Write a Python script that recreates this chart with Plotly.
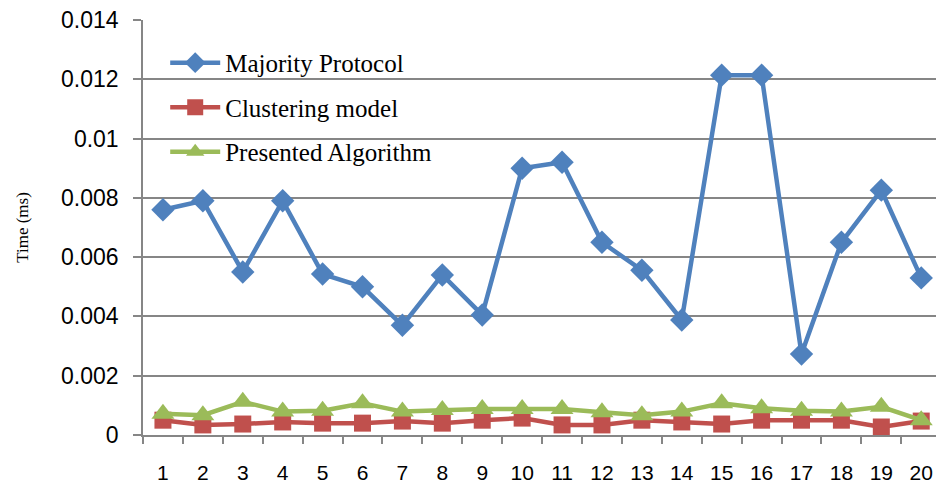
import plotly.graph_objects as go

categories = list(range(1, 21))
majority = [0.0076, 0.0079, 0.0055, 0.0079, 0.00543, 0.0050, 0.0037, 0.0054, 0.00405, 0.0090,
            0.0092, 0.0065, 0.00556, 0.00388, 0.01214, 0.01214, 0.00273, 0.0065, 0.00826, 0.0053]
clustering = [0.0005, 0.00034, 0.00037, 0.00044, 0.0004, 0.0004, 0.00047, 0.0004, 0.0005, 0.00057,
              0.00034, 0.00034, 0.0005, 0.00044, 0.00037, 0.0005, 0.0005, 0.0005, 0.00027, 0.00047]
presented = [0.00072, 0.00067, 0.00112, 0.00079, 0.00082, 0.00107, 0.00079, 0.00084, 0.00088, 0.00088,
             0.00088, 0.00077, 0.00067, 0.00079, 0.00107, 0.0009, 0.00082, 0.00079, 0.00095, 0.0005]
y_ticks = [0, 0.002, 0.004, 0.006, 0.008, 0.01, 0.012, 0.014]
y_tick_text = ["0", "0.002", "0.004", "0.006", "0.008", "0.01", "0.012", "0.014"]

fig = go.Figure()
fig.add_trace(go.Scatter(x=categories, y=majority, name="Majority Protocol", mode="lines+markers",
                         line=dict(color="#4F81BD", width=4.5),
                         marker=dict(symbol="diamond", size=18, color="#4F81BD"),
                         legendgroup="a"))
fig.add_trace(go.Scatter(x=categories, y=clustering, name="Clustering model", mode="lines+markers",
                         line=dict(color="#C0504D", width=4.5),
                         marker=dict(symbol="square", size=17, color="#C0504D"),
                         legendgroup="b"))
fig.add_trace(go.Scatter(x=categories, y=presented, name="Presented Algorithm", mode="lines+markers",
                         line=dict(color="#9BBB59", width=4.5),
                         marker=dict(symbol="triangle-up", size=20, color="#9BBB59"),
                         legendgroup="c"))

fig.update_layout(
    width=936, height=491,
    margin=dict(l=143, r=0, t=20, b=56),
    plot_bgcolor="white", paper_bgcolor="white",
    showlegend=True,
    legend=dict(x=0.028, y=0.952, xanchor="left", yanchor="top",
                font=dict(family="Liberation Serif", size=25, color="black"),
                bgcolor="rgba(0,0,0,0)", tracegroupgap=9, traceorder="grouped",
                itemwidth=50),
    xaxis=dict(range=[0.5, 20.37], tickvals=categories, ticktext=[str(c) for c in categories],
               ticks="", showgrid=False, zeroline=False,
               showline=True, linecolor="#868686", linewidth=1.5,
               tickfont=dict(family="Liberation Sans", size=21, color="black"),
               minor=dict(tick0=0.5, dtick=1, ticks="outside", ticklen=7, tickcolor="#868686", tickwidth=1.5),
               ticklabelstandoff=18),
    yaxis=dict(range=[0, 0.014], tickvals=y_ticks, ticktext=y_tick_text,
               showgrid=True, gridcolor="#868686", gridwidth=1.5, zeroline=False,
               showline=True, linecolor="#868686", linewidth=1.5,
               ticks="outside", ticklen=8, tickcolor="#868686", tickwidth=1.5,
               ticklabelstandoff=10,
               tickfont=dict(family="Liberation Sans", size=23, color="black"),
               title=dict(text="Time (ms)", font=dict(family="Liberation Serif", size=17, color="black"),
                          standoff=28)),
)

fig.write_html("out.html", config={"displayModeBar": False},
               post_script="document.body.style.margin='0';")
